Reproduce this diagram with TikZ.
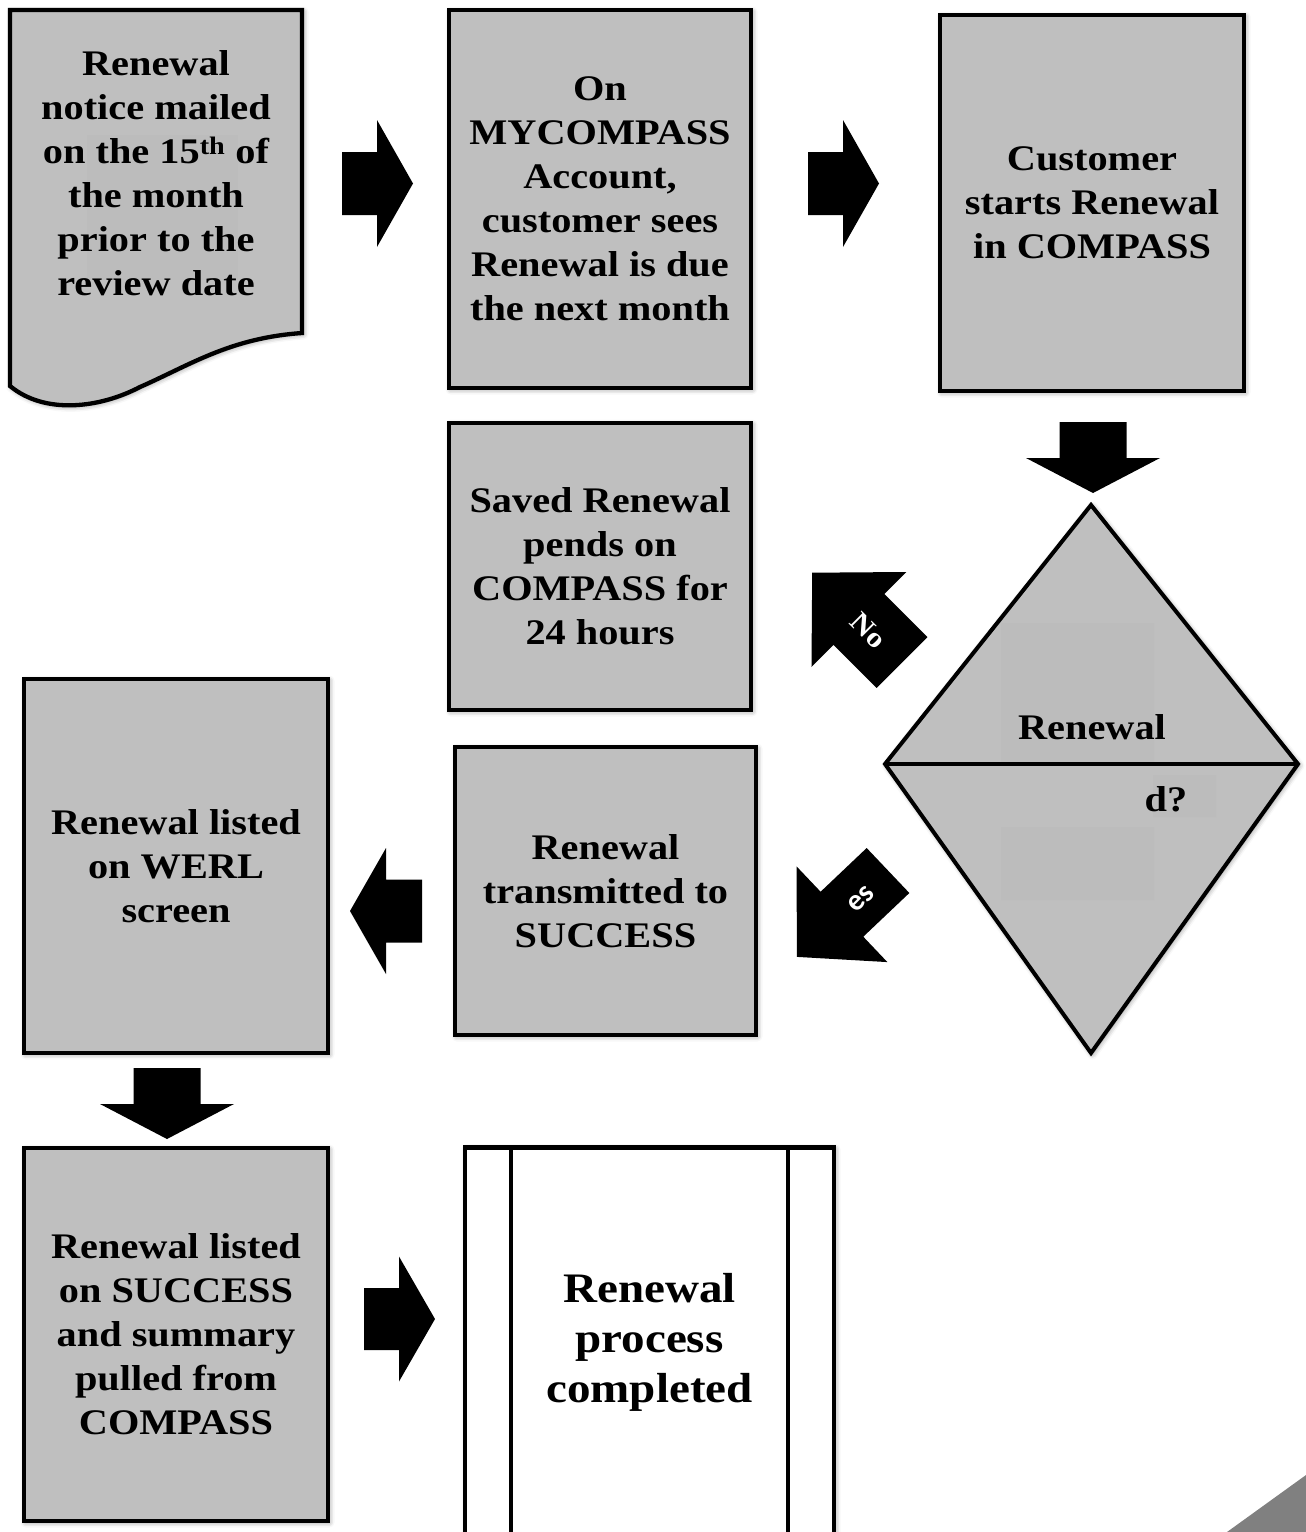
\documentclass[tikz,border=0pt]{standalone}
\usepackage{fontspec}
\setmainfont[FakeStretch=1.12]{Liberation Serif}
\newfontfamily\carl{Carlito}
\usetikzlibrary{shadows.blur}
\definecolor{boxgray}{RGB}{191,191,191}
\definecolor{patchgray}{RGB}{188,188,188}
\definecolor{cornergray}{RGB}{128,128,128}
\begin{document}
\begin{tikzpicture}[x=1pt,y=-1pt,
  shad/.style={blur shadow={shadow blur radius=5pt, shadow xshift=1.5pt, shadow yshift=-1.5pt, shadow opacity=45}},
  boxst/.style={draw=black, line width=4.3pt, fill=boxgray, shad, inner sep=0pt, align=center,
     font=\bfseries\fontsize{36}{44}\selectfont},
  txt/.style={align=center, inner sep=0pt, font=\bfseries\fontsize{36}{44}\selectfont},
  patch/.style={path picture={\fill[patchgray] #1;}},
  pics/barrow/.style n args={4}{code={
     \fill[black] (0,-#3) -- ({#1-#2},-#3) -- ({#1-#2},-#4) -- (#1,0) -- ({#1-#2},#4) -- ({#1-#2},#3) -- (0,#3) -- cycle;}}
]
\useasboundingbox (0,0) rectangle (1306,1532);

% document shape
\coordinate (d1) at (10,10);
\coordinate (d2) at (302,10);
\coordinate (d3) at (302,333);
\coordinate (d4) at (10,386);
\path[draw=black, line width=4.3pt, fill=boxgray, shad, patch={(87,135) rectangle (238,280)}]
  (d1) -- (d2) -- (d3) .. controls (230,338) and (190,365) .. (140,387)
  .. controls (100,408) and (45,415) .. (d4) -- cycle;
\node[txt] (t1) at (156,173) {Renewal\\notice mailed\\on the 15\textsuperscript{th} of\\the month\\prior to the\\review date};

% boxes
\node[boxst, minimum width=302pt, minimum height=378pt, patch={(544,148) rectangle (695,258)}] (b2) at (600,199)
  {On\\MYCOMPASS\\Account,\\customer sees\\Renewal is due\\the next month};
\node[boxst, minimum width=304pt, minimum height=376pt, patch={(1001,133) rectangle (1154,271)}] (b3) at (1092,203)
  {Customer\\starts Renewal\\in COMPASS};
\node[boxst, minimum width=302pt, minimum height=287pt] (b4) at (600,566.5)
  {Saved Renewal\\pends on\\COMPASS for\\24 hours};
\node[boxst, minimum width=301pt, minimum height=288pt] (b5) at (605.5,891)
  {Renewal\\transmitted to\\SUCCESS};
\node[boxst, minimum width=304pt, minimum height=374pt, patch={(86,795) rectangle (239,934)}] (b6) at (176,866)
  {Renewal listed\\on WERL\\screen};
\node[boxst, minimum width=304pt, minimum height=373pt, patch={(87,1263) rectangle (239,1403)}] (b7) at (176,1334.5)
  {Renewal listed\\on SUCCESS\\and summary\\pulled from\\COMPASS};
\node[boxst, fill=white, minimum width=369pt, minimum height=389pt, font=\bfseries\fontsize{42}{50}\selectfont] (b8) at (649.5,1342)
  {Renewal\\process\\completed};
\draw[line width=4.3pt] ([xshift=48pt]b8.north west) -- ([xshift=48pt]b8.south west);
\draw[line width=4.3pt] ([xshift=-48pt]b8.north east) -- ([xshift=-48pt]b8.south east);

% decision diamond
\coordinate (dt) at (1091,505);
\coordinate (dl) at (885,764);
\coordinate (dr) at (1298,764);
\coordinate (db) at (1091,1053);
\path[draw=black, line width=4pt, fill=boxgray, line join=miter, shad,
  patch={(1001,623) rectangle (1154,764) (1153,775) rectangle (1216,817) (1001,827) rectangle (1154,900)}]
  (dt) -- (dr) -- (db) -- (dl) -- cycle;
\draw[line width=4pt] (dl) -- (dr);
\node[txt] (q1) at (1092,727) {Renewal};
\node[txt] (q2) at (1166,799) {d?};

% block arrows
\pic at (342,183.5) {barrow={71}{36}{31.5}{63.5}};
\pic at (808,183.5) {barrow={71}{36}{31.5}{63.5}};
\pic[rotate=-90] at (1093,422) {barrow={71}{35}{33.5}{67}};
\pic[rotate=180] at (422,911) {barrow={72}{36}{31.5}{63}};
\pic[rotate=-90] at (167,1068) {barrow={71}{35}{33.5}{67}};
\pic at (364,1319) {barrow={71}{36}{31}{62.5}};
\pic[rotate=135] at (902,662.5) {barrow={127}{66}{36}{67}};
\pic[rotate=223.5] at (888,870.5) {barrow={125.5}{62}{31}{66}};
\node[white, rotate=-45, inner sep=0pt, font=\bfseries\fontsize{28}{30}\selectfont] (lno) at (868,631) {No};
\node[white, rotate=45, inner sep=0pt, font=\carl\bfseries\fontsize{30}{32}\selectfont] (lyes) at (861,899) {es};

% corner
\fill[cornergray] (1227,1532) -- (1306,1475) -- (1306,1532) -- cycle;
\end{tikzpicture}
\end{document}
